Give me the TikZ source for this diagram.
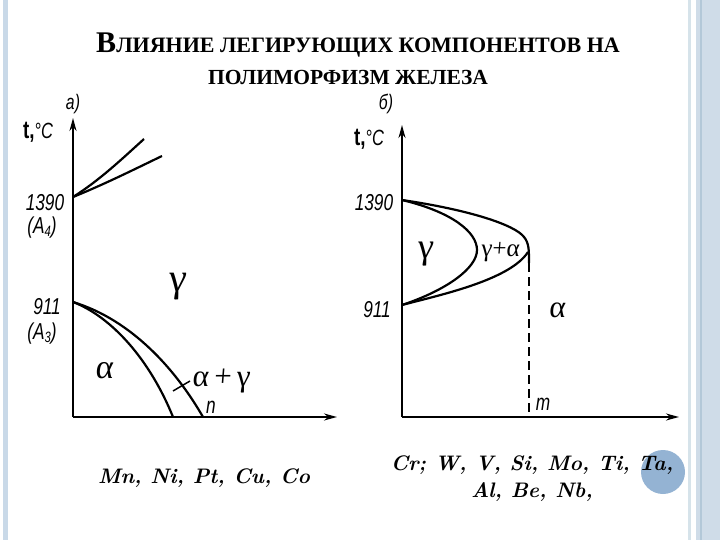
\documentclass[tikz,border=0pt]{standalone}
\usepackage{fontspec}
\setmainfont{Liberation Serif}
\newfontfamily\hand[FakeStretch=0.75]{Liberation Sans}
\newfontfamily\grk[FakeSlant=0.08]{Liberation Serif}
\newfontfamily\lmr{Latin Modern Roman}
\usetikzlibrary{arrows.meta}
\definecolor{stripeA}{HTML}{C9D9E8}
\definecolor{stripeB}{HTML}{D6E3EA}
\definecolor{stripeC}{HTML}{CFDCE8}
\definecolor{stripeD}{HTML}{B3C8D8}
\definecolor{bubble}{HTML}{94B3D3}
\newcommand\sbs[1]{\raisebox{-3pt}{\fontsize{15}{15}\selectfont #1}}
\tikzset{
  axis/.style={line width=2pt,-{Stealth[length=13pt,width=7pt]}},
  curve/.style={line width=2.2pt},
  lbl/.style={font=\hand\itshape\fontsize{23}{23}\selectfont,inner sep=0pt},
  phase/.style={font=\grk\fontsize{36}{36}\selectfont,inner sep=0pt},
  elem/.style={font=\lmr\bfseries\itshape\fontsize{21}{27}\selectfont,inner sep=0pt,align=center},
}
\begin{document}
\begin{tikzpicture}[x=1pt,y=-1pt]
\useasboundingbox (0,0) rectangle (720,540);
% decorative stripes
\fill[stripeA] (3,0) rectangle (8,540);
\fill[stripeB] (688,0) rectangle (691,540);
\fill[stripeC] (696,0) rectangle (720,540);
\fill[stripeD] (700,0) rectangle (702,540);
% title
\node[inner sep=0pt,font=\bfseries] (title1) at (358,45) {{\fontsize{30}{30}\selectfont В}{\fontsize{22}{22}\selectfont ЛИЯНИЕ ЛЕГИРУЮЩИХ КОМПОНЕНТОВ НА}};
\node[inner sep=0pt,font=\bfseries\fontsize{21.5}{22}\selectfont] (title2) at (348,77) {ПОЛИМОРФИЗМ ЖЕЛЕЗА};
% ---- diagram a
\coordinate (aO) at (73,417);
\coordinate (aY) at (73,118);
\coordinate (aX) at (337,417);
\draw[axis] (aO) -- (aY);
\draw[axis] (aO) -- (aX);
\node[lbl,font=\hand\itshape\fontsize{21}{21}\selectfont] (la) at (73,104) {а)};
\node[lbl,font=\hand\bfseries\fontsize{25}{25}\selectfont] (lta) at (38,132) {t,{\normalfont\hand\itshape\fontsize{22}{22}\selectfont °C}};
\node[lbl] (a1390) at (45,203) {1390};
\node[lbl] (aA4) at (42,228) {(A\sbs{4})};
\node[lbl] (a911) at (47,307) {911};
\node[lbl] (aA3) at (42,334) {(A\sbs{3})};
\coordinate (a4) at (73,197);
\coordinate (a3) at (73,302);
\draw[curve] (a4) .. controls (100,180) and (123,158) .. (144,139);
\draw[curve] (a4) .. controls (105,184) and (135,169) .. (162,156);
\draw[curve] (a3) .. controls (112,317) and (150,360) .. (173,417);
\draw[curve] (a3) .. controls (132,320) and (176,370) .. (203,417);
\node[phase,font=\grk\fontsize{40}{40}\selectfont] (agamma) at (177,287) {γ};
\node[phase,font=\grk\fontsize{34}{34}\selectfont] (aalpha) at (104,371) {α};
\node[phase,font=\grk\fontsize{31}{31}\selectfont] (aag) at (221,381) {α\,+\,γ};
\draw[line width=1.5pt] (173,391) -- (190,381);
\node[lbl] (an) at (211,407) {n};
% ---- diagram b
\coordinate (bO) at (402,417);
\coordinate (bY) at (402,125);
\coordinate (bX) at (679,417);
\draw[axis] (bO) -- (bY);
\draw[axis] (bO) -- (bX);
\node[lbl,font=\hand\itshape\fontsize{21}{21}\selectfont] (lb) at (386,104) {б)};
\node[lbl,font=\hand\bfseries\fontsize{25}{25}\selectfont] (ltb) at (369,139) {t,{\normalfont\hand\itshape\fontsize{22}{22}\selectfont °C}};
\node[lbl] (b1390) at (374,203) {1390};
\node[lbl] (b911) at (377,310) {911};
\coordinate (b4) at (402,200);
\coordinate (b3) at (402,305);
\coordinate (bm) at (529,263);
\draw[curve] (b4) .. controls (452,212) and (477,232) .. (477,250) .. controls (477,268) and (447,290) .. (b3);
\draw[curve] (b4) .. controls (470,210) and (515,225) .. (524,237) .. controls (529,243) and (529,250) .. (bm);
\draw[curve] (528,252) .. controls (510,280) and (440,295) .. (b3);
\draw[line width=1.8pt,dash pattern=on 9pt off 5pt] (bm) -- (529,417);
\node[phase,font=\grk\fontsize{36}{36}\selectfont] (bgamma) at (425,254) {γ};
\node[phase,font=\grk\fontsize{25}{25}\selectfont] (bga) at (500,252) {γ+α};
\node[phase,font=\grk\fontsize{31}{31}\selectfont] (balpha) at (557,310) {α};
\node[lbl] (bmlbl) at (543,404) {m};
% ---- element lists
\fill[bubble] (663,472) circle (22);
\node[elem] (elA) at (204,478) {Mn, Ni, Pt, Cu, Co};
\node[elem] (elB) at (532,479) {Cr; W, V, Si, Mo, Ti, Ta,\\Al, Be, Nb,};
\end{tikzpicture}
\end{document}
